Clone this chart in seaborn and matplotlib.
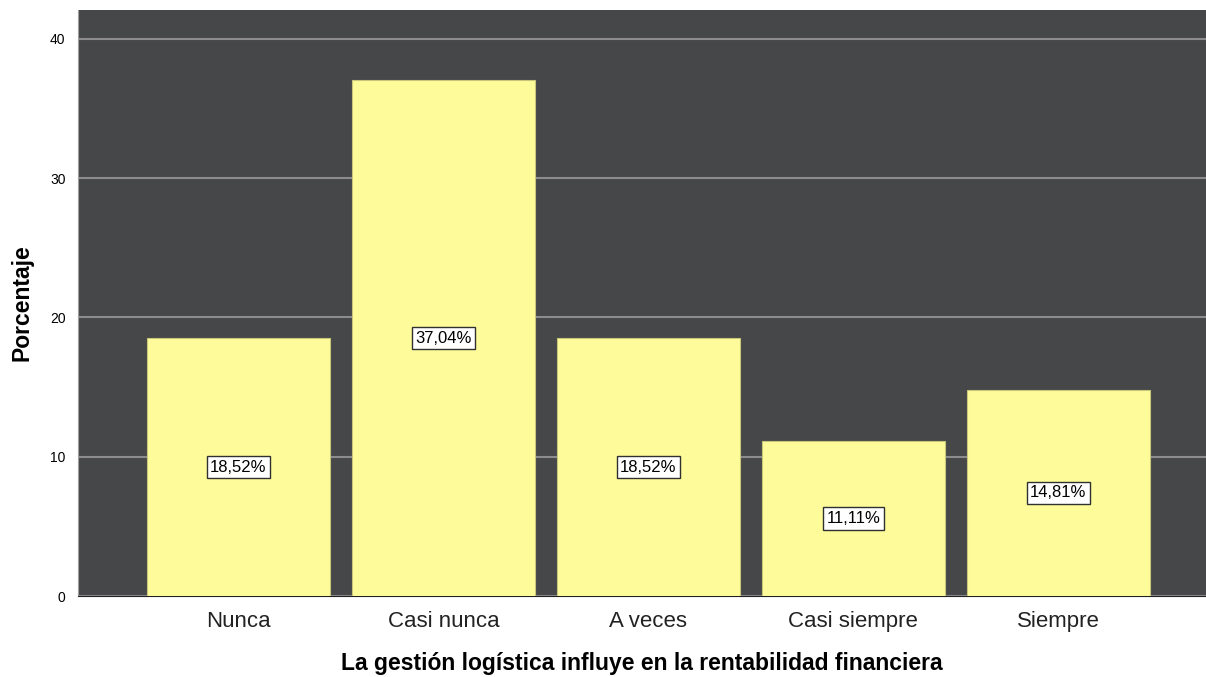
import matplotlib
matplotlib.use('Agg')
import matplotlib.pyplot as plt
import seaborn as sns

# Data
categories = ['Nunca', 'Casi nunca', 'A veces', 'Casi siempre', 'Siempre']
percentages = [18.52, 37.04, 18.52, 11.11, 14.81]
yticks = [0, 10, 20, 30, 40]

sns.set_style('white')
plt.rcParams['font.family'] = ['Liberation Sans', 'DejaVu Sans']
plt.rcParams['text.color'] = 'black'
plt.rcParams['axes.labelcolor'] = 'black'
plt.rcParams['xtick.color'] = 'black'
plt.rcParams['ytick.color'] = 'black'

fig = plt.figure(figsize=(12.06, 6.77), dpi=100)
ax = fig.add_axes([78 / 1206, 81 / 677, 1128 / 1206, 586 / 677])
ax.set_facecolor('#464749')

sns.barplot(x=categories, y=percentages, color='#FEFC9A', saturation=1,
            width=0.89, edgecolor='#C8C67A', linewidth=0.8, zorder=3, ax=ax)

ax.set_ylim(0, 42.08)
ax.set_xlim(-0.783, 4.72)
ax.set_yticks(yticks)
ax.set_yticklabels([str(t) for t in yticks], fontsize=10)
ax.yaxis.grid(True, color='#8C8C8C', linewidth=1.5, zorder=0)
ax.set_axisbelow(True)
ax.tick_params(axis='x', labelsize=16, length=0, pad=11, labelcolor='#222222')
ax.tick_params(axis='y', length=0, pad=9)

for s in ['top', 'right']:
    ax.spines[s].set_visible(False)
ax.spines['left'].set_color('#A0A0A0')
ax.spines['bottom'].set_color('#202020')

# Value labels at mid-height
for i, v in enumerate(percentages):
    ax.text(i, v / 2, f'{v:.2f}%'.replace('.', ','), ha='center', va='center',
            fontsize=12, color='black', zorder=5,
            bbox=dict(boxstyle='square,pad=0.22', facecolor='white',
                      edgecolor='#303030', linewidth=1))

ax.set_xlabel('La gestión logística influye en la rentabilidad financiera',
              fontsize=16.5, fontweight='bold', labelpad=14)
ax.set_ylabel('Porcentaje', fontsize=16.5, fontweight='bold', labelpad=12)

fig.savefig('out.png', dpi=100)
